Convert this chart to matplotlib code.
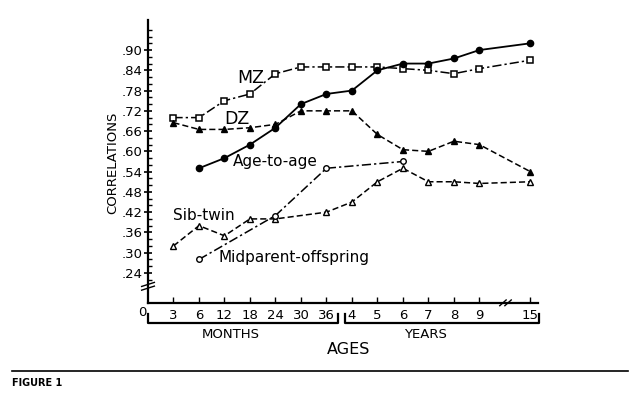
import numpy as np
import matplotlib.pyplot as plt
from matplotlib.lines import Line2D

# category positions on the age axis (evenly spaced, gap before 15 years)
age_labels = ["3", "6", "12", "18", "24", "30", "36", "4", "5", "6", "7", "8", "9", "15"]
age_pos = [1, 2, 3, 4, 5, 6, 7, 8, 9, 10, 11, 12, 13, 15]

# series values
mz_x = [1, 2, 3, 4, 5, 6, 7, 8, 9, 10, 11, 12, 13, 15]
mz_y = [0.70, 0.70, 0.75, 0.77, 0.83, 0.85, 0.85, 0.85, 0.85, 0.845, 0.84, 0.83, 0.845, 0.87]

dz_x = [1, 2, 3, 4, 5, 6, 7, 8, 9, 10, 11, 12, 13, 15]
dz_y = [0.685, 0.665, 0.665, 0.67, 0.68, 0.72, 0.72, 0.72, 0.65, 0.605, 0.60, 0.63, 0.62, 0.54]

age_x = [2, 3, 4, 5, 6, 7, 8, 9, 10, 11, 12, 13, 15]
age_y = [0.55, 0.58, 0.62, 0.67, 0.74, 0.77, 0.78, 0.84, 0.86, 0.86, 0.875, 0.90, 0.92]

sib_x = [1, 2, 3, 4, 5, 7, 8, 9, 10, 11, 12, 13, 15]
sib_y = [0.32, 0.38, 0.35, 0.40, 0.40, 0.42, 0.45, 0.51, 0.55, 0.51, 0.51, 0.505, 0.51]

mid_x = [2, 5, 7, 10]
mid_y = [0.28, 0.41, 0.55, 0.57]

yticks = [0.24, 0.30, 0.36, 0.42, 0.48, 0.54, 0.60, 0.66, 0.72, 0.78, 0.84, 0.90]

W, H = 640, 395


def fx(px):
    return px / W


def fy(py):
    return 1 - py / H


fig = plt.figure(figsize=(6.4, 3.95), dpi=100)
ax = fig.add_axes([fx(148), fy(303), fx(538) - fx(148), fy(20) - fy(303)])
ax.set_xlim(0, 15.3)
ax.set_ylim(0.151, 0.989)

ax.spines["top"].set_visible(False)
ax.spines["right"].set_visible(False)
ax.spines["left"].set_linewidth(1.6)
ax.spines["bottom"].set_linewidth(1.6)

dashdot = (0, (6, 2, 1.5, 2))
ax.plot(mz_x, mz_y, color="black", lw=1.1, ls=dashdot, marker="s", ms=4.5,
        mfc="white", mec="black", mew=1.1)
ax.plot(dz_x, dz_y, color="black", lw=1.1, ls=(0, (4, 2)), marker="^", ms=5,
        mfc="black", mec="black")
ax.plot(age_x, age_y, color="black", lw=1.3, ls="-", marker="o", ms=4.5,
        mfc="black", mec="black")
ax.plot(sib_x, sib_y, color="black", lw=1.1, ls=(0, (4, 2)), marker="^", ms=5,
        mfc="white", mec="black", mew=1.0)
ax.plot(mid_x, mid_y, color="black", lw=1.1, ls=dashdot, marker="o", ms=4,
        mfc="white", mec="black", mew=1.0)

lab = dict(fontsize=11, color="black", va="center")
ax.text(4.03, 0.817, "MZ", ha="center", fontsize=12.5, va="center")
ax.text(3.48, 0.696, "DZ", ha="center", fontsize=12.5, va="center")
ax.text(3.33, 0.569, "Age-to-age", ha="left", **lab)
ax.text(1.0, 0.409, "Sib-twin", ha="left", **lab)
ax.text(2.77, 0.287, "Midparent-offspring", ha="left", **lab)

ax.set_yticks(yticks)
ax.set_yticklabels(["." + f"{v:.2f}"[2:] for v in yticks], fontsize=9.5)
ax.set_yticks(np.arange(0.22, 0.97, 0.02), minor=True)
ax.tick_params(axis="y", which="major", direction="inout", length=6, width=1.2, pad=1)
ax.tick_params(axis="y", which="minor", direction="in", length=3, width=1)

ax.set_xticks(age_pos)
ax.set_xticklabels(age_labels, fontsize=9.5)
ax.tick_params(axis="x", direction="in", length=4, width=1, pad=4)
fig.text(fx(142), fy(313), "0", ha="center", va="center", fontsize=9.5)

# axis breaks
ax.plot([-0.25, 0.25], [0.200, 0.212], color="black", lw=1, clip_on=False)
ax.plot([-0.25, 0.25], [0.189, 0.201], color="black", lw=1, clip_on=False)
ax.plot([13.8, 14.05], [0.143, 0.160], color="black", lw=1, clip_on=False)
ax.plot([14.0, 14.25], [0.143, 0.160], color="black", lw=1, clip_on=False)

# brackets below the axis
for x0, x1 in [(148, 338), (345, 539)]:
    fig.add_artist(Line2D([fx(x0), fx(x0), fx(x1), fx(x1)],
                          [fy(314), fy(323), fy(323), fy(314)],
                          color="black", lw=1.6))
fig.text(fx(231), fy(335), "MONTHS", ha="center", va="center", fontsize=9.5)
fig.text(fx(425), fy(335), "YEARS", ha="center", va="center", fontsize=9.5)
fig.text(fx(349), fy(350), "AGES", ha="center", va="center", fontsize=11.5)
fig.text(fx(113), fy(163), "CORRELATIONS", rotation=90, ha="center", va="center",
         fontsize=9.5)

# caption rule
fig.add_artist(Line2D([fx(12), fx(628)], [fy(371), fy(371)], color="black", lw=1.2))
fig.text(fx(12), fy(383), "FIGURE 1", ha="left", va="center", fontsize=7,
         fontweight="bold")

fig.savefig("out.png", dpi=100)
